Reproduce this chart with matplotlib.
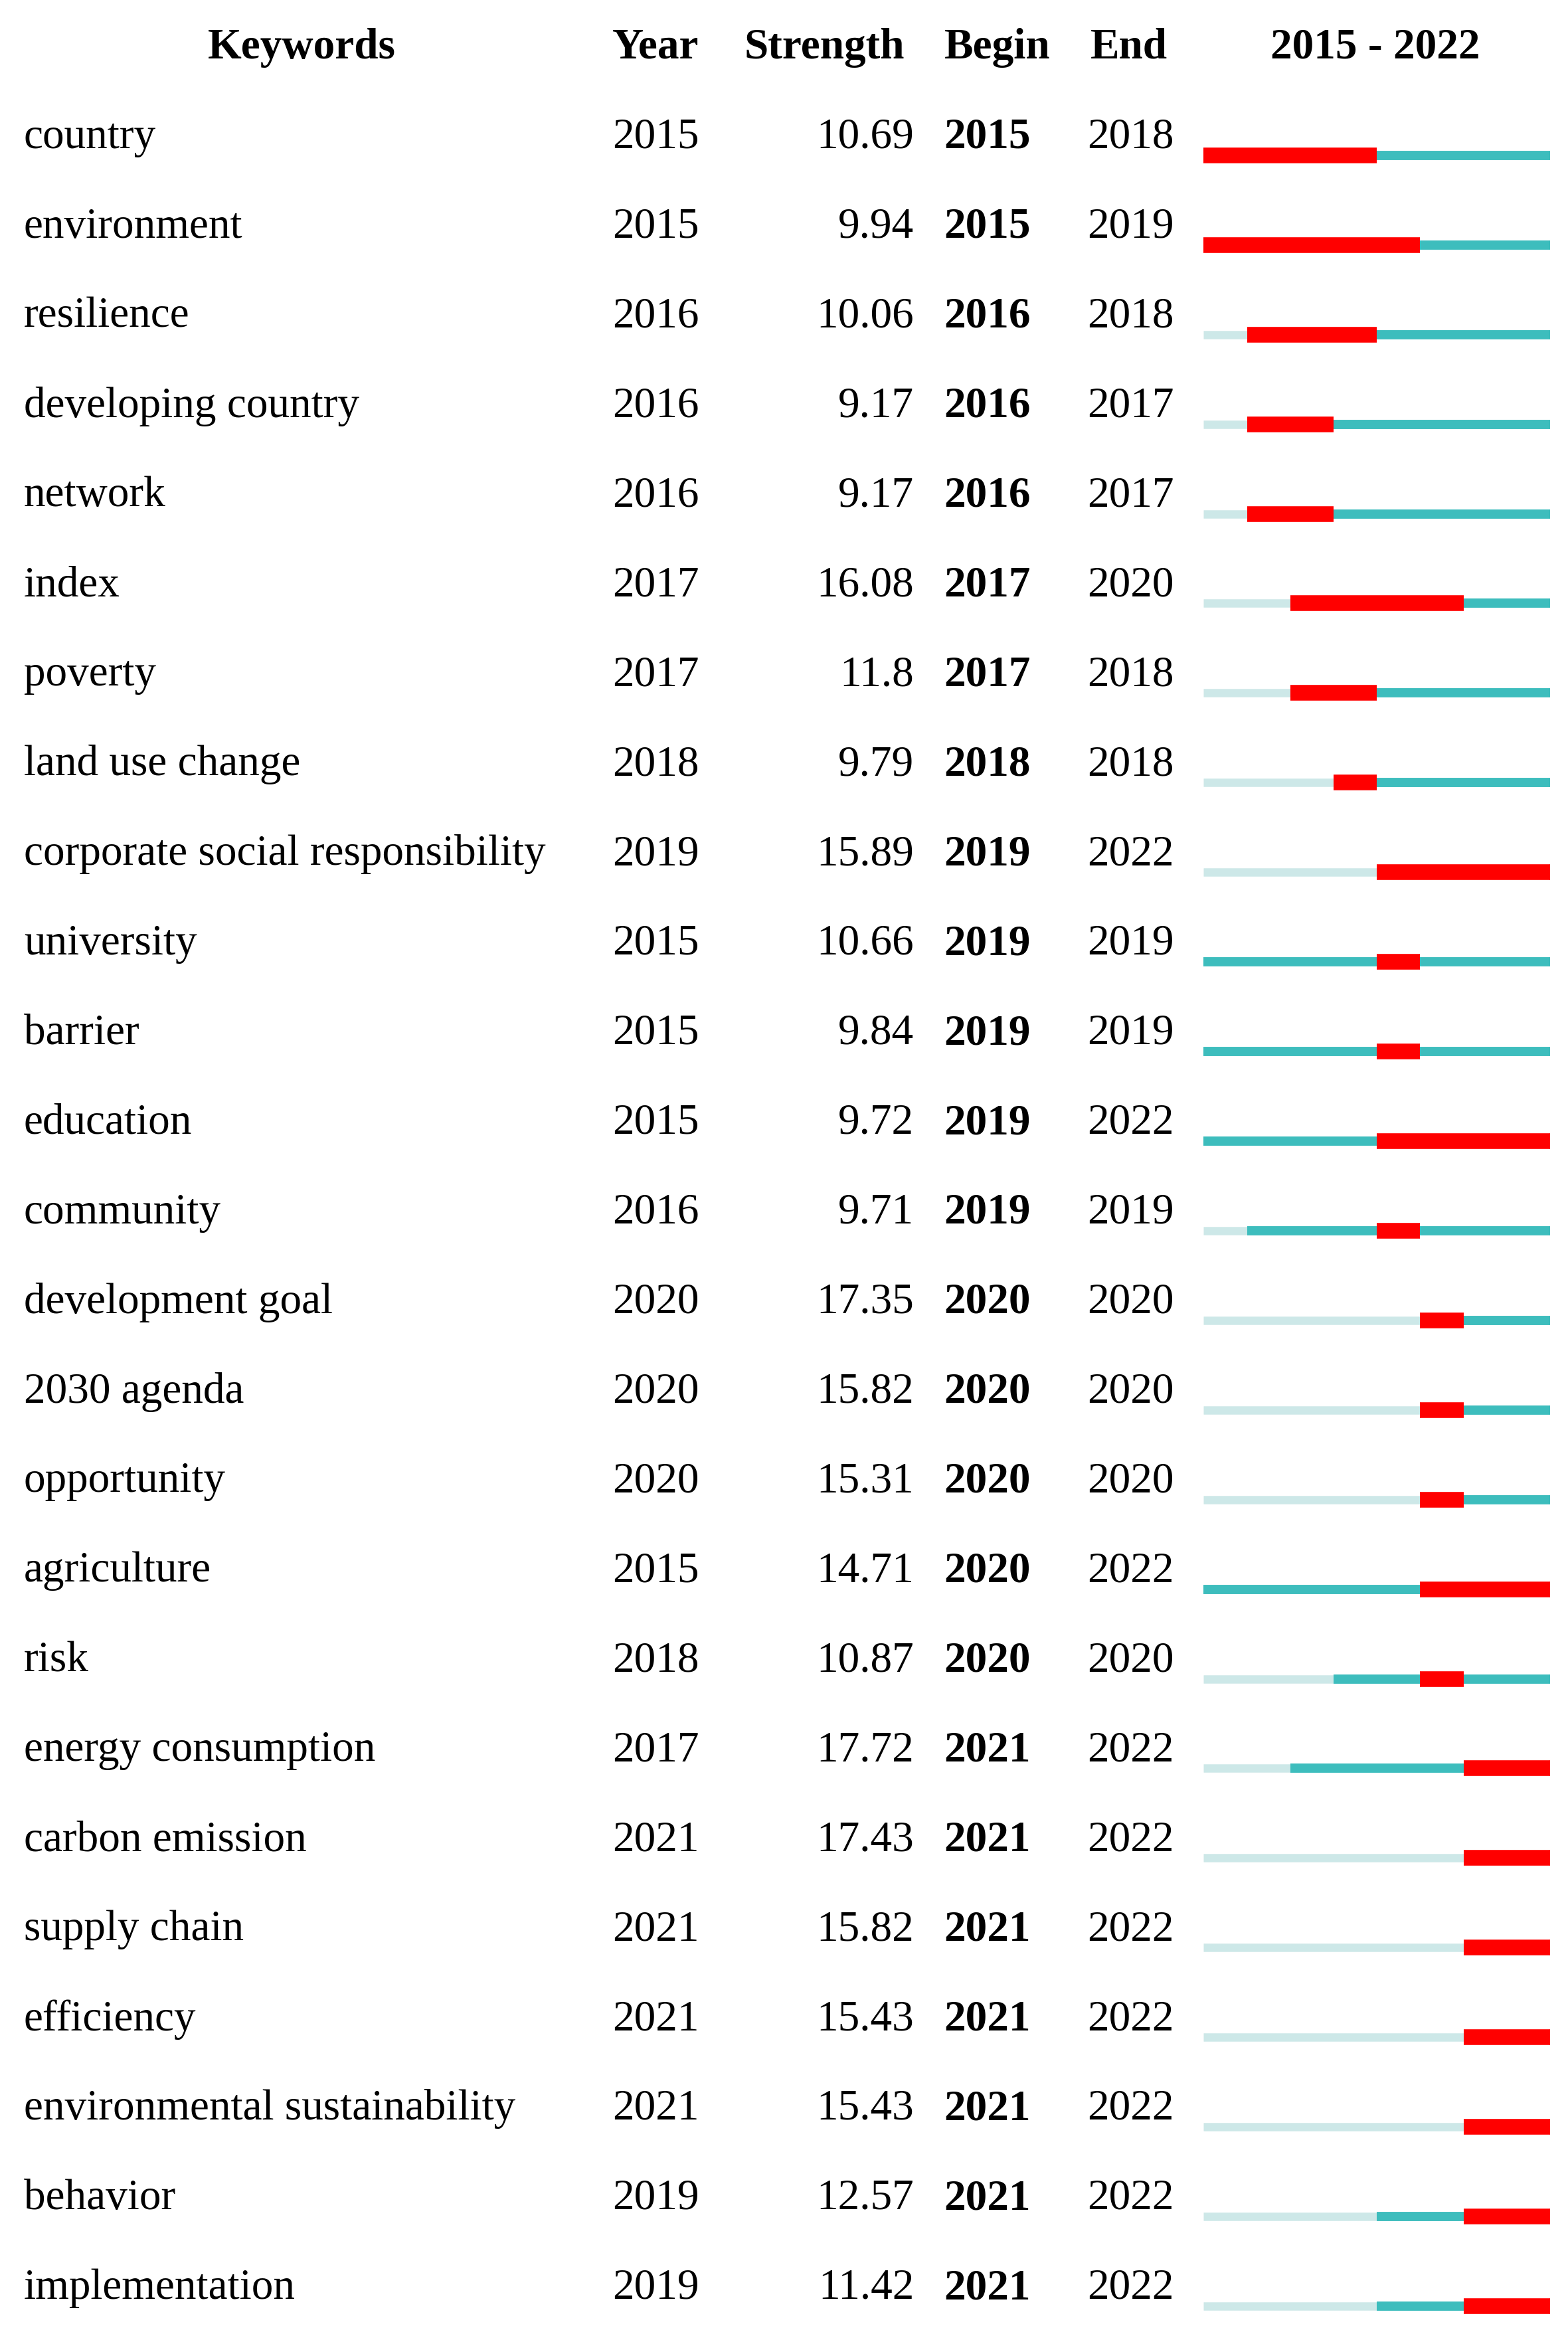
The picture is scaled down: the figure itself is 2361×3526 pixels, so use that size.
import matplotlib
matplotlib.use("Agg")
import matplotlib.pyplot as plt

keywords = ["country","environment","resilience","developing country","network","index","poverty",
            "land use change","corporate social responsibility","university","barrier","education",
            "community","development goal","2030 agenda","opportunity","agriculture","risk",
            "energy consumption","carbon emission","supply chain","efficiency",
            "environmental sustainability","behavior","implementation"]
years = [2015,2015,2016,2016,2016,2017,2017,2018,2019,2015,2015,2015,2016,2020,2020,2020,2015,2018,2017,2021,2021,2021,2021,2019,2019]
strength = ["10.69","9.94","10.06","9.17","9.17","16.08","11.8","9.79","15.89","10.66","9.84","9.72","9.71",
            "17.35","15.82","15.31","14.71","10.87","17.72","17.43","15.82","15.43","15.43","12.57","11.42"]
begin = [2015,2015,2016,2016,2016,2017,2017,2018,2019,2019,2019,2019,2019,2020,2020,2020,2020,2020,2021,2021,2021,2021,2021,2021,2021]
end = [2018,2019,2018,2017,2017,2020,2018,2018,2022,2019,2019,2022,2019,2020,2020,2020,2022,2020,2022,2022,2022,2022,2022,2022,2022]
start_year, end_year = 2015, 2022

W, H = 1050, 1568
fig = plt.figure(figsize=(23.61, 35.26), dpi=100)
ax = fig.add_axes([0, 0, 1, 1])
ax.set_xlim(0, W); ax.set_ylim(H, 0); ax.axis("off")
fam = "Liberation Serif"
fs = 47
hy = 32
ax.text(202, hy, "Keywords", ha="center", va="center", fontsize=fs, family=fam, weight="bold")
ax.text(439, hy, "Year", ha="center", va="center", fontsize=fs, family=fam, weight="bold")
ax.text(552, hy, "Strength", ha="center", va="center", fontsize=fs, family=fam, weight="bold")
ax.text(668, hy, "Begin", ha="center", va="center", fontsize=fs, family=fam, weight="bold")
ax.text(756, hy, "End", ha="center", va="center", fontsize=fs, family=fam, weight="bold")
ax.text(921, hy, f"{start_year} - {end_year}", ha="center", va="center", fontsize=fs, family=fam, weight="bold")

bx0, bx1 = 806, 1038
def bx(y): return bx0 + (y - start_year) * (bx1 - bx0) / (end_year + 1 - start_year)

for i, k in enumerate(keywords):
    y = 92 + 60 * i
    ax.text(16, y, k, ha="left", va="center", fontsize=fs, family=fam)
    ax.text(439, y, str(years[i]), ha="center", va="center", fontsize=fs, family=fam)
    ax.text(612, y, strength[i], ha="right", va="center", fontsize=fs, family=fam)
    ax.text(661, y, str(begin[i]), ha="center", va="center", fontsize=fs, family=fam, weight="bold")
    ax.text(757, y, str(end[i]), ha="center", va="center", fontsize=fs, family=fam)
    by = y + 12
    ax.plot([bx(start_year), bx(years[i])], [by, by], color="#cde8e8", lw=9, solid_capstyle="butt")
    ax.plot([bx(years[i]), bx(end_year + 1)], [by, by], color="#3dbdbd", lw=10, solid_capstyle="butt")
    ax.plot([bx(begin[i]), bx(end[i] + 1)], [by, by], color="#ff0000", lw=17, solid_capstyle="butt")

fig.savefig("out.png", dpi=100, facecolor="white")
